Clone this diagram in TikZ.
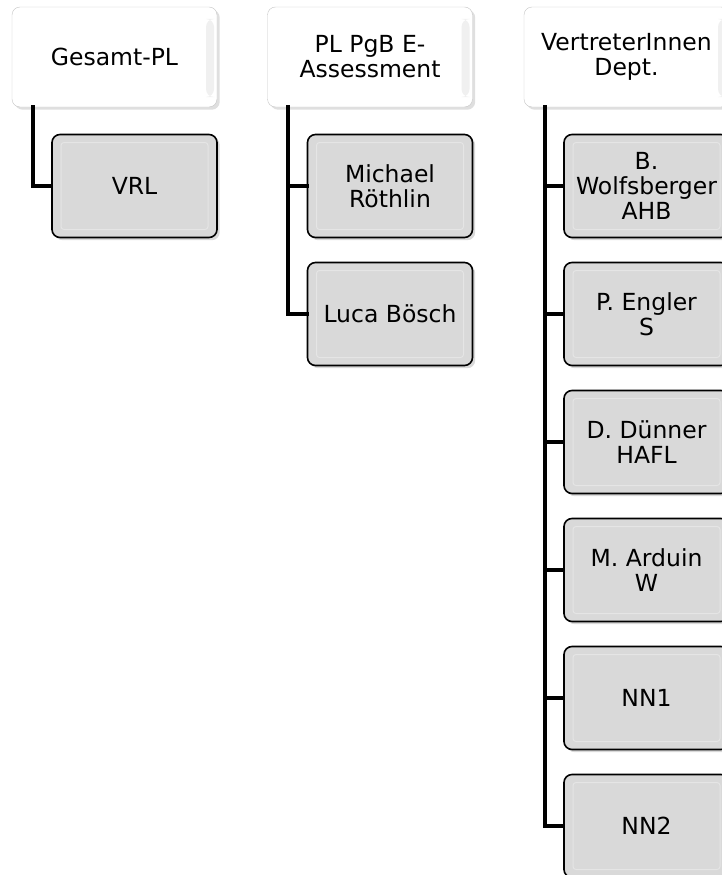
\documentclass[tikz,border=0pt]{standalone}
\usepackage{fontspec}
\setmainfont{DejaVu Sans}
\usetikzlibrary{shadows}
\tikzset{
  capo/.style={draw=gray!45, fill=white, rounded corners=8pt, minimum width=205pt,
    minimum height=100pt, inner sep=2pt, align=center, drop shadow={opacity=0.25},
    path picture={\fill[black!6]
      ([shift={(-11pt,10pt)}]path picture bounding box.south east) rectangle
      ([shift={(-3pt,-12pt)}]path picture bounding box.north east);},
    font=\fontsize{23.5}{25}\selectfont},
  membro/.style={draw=black, line width=1.6pt, fill=black!15, rounded corners=8pt,
    minimum width=165pt, minimum height=103pt, inner sep=2pt, align=center,
    drop shadow={opacity=0.3},
    path picture={\draw[black!10, line width=1pt, rounded corners=3pt]
      ([shift={(9pt,8pt)}]path picture bounding box.south west) rectangle
      ([shift={(-9pt,-8pt)}]path picture bounding box.north east);},
    font=\fontsize{23.5}{25}\selectfont},
  linea/.style={line width=4pt, line cap=rect}
}
\begin{document}
\begin{tikzpicture}[x=1pt, y=-1pt]
		\useasboundingbox (0,0) rectangle (722,875);
		% Colonna 1
		\node [capo] (gpl) at (114.5,57) {Gesamt-PL};
		\node [membro] (vrl) at (134.5,186) {VRL};
		% Colonna 2
		\node [capo] (pgb) at (370,57) {PL PgB E-\\Assessment};
		\node [membro] (roe) at (390,186) {Michael\\Röthlin};
		\node [membro] (boe) at (390,314) {Luca Bösch};
		% Colonna 3
		\node [capo] (dep) at (626.5,57) {VertreterInnen\\Dept.};
		\node [membro] (ahb) at (646.5,186) {B.\\Wolfsberger\\AHB};
		\node [membro] (s) at (646.5,314) {P. Engler\\S};
		\node [membro] (hafl) at (646.5,442) {D. Dünner\\HAFL};
		\node [membro] (w) at (646.5,570) {M. Arduin\\W};
		\node [membro] (nn1) at (646.5,698) {NN1};
		\node [membro] (nn2) at (646.5,826) {NN2};
		% Collegamenti
		\draw [linea] ([xshift=21pt]gpl.south west) |- (vrl.west);
		\foreach \m in {roe,boe}
			\draw [linea] ([xshift=21pt]pgb.south west) |- (\m.west);
		\foreach \m in {ahb,s,hafl,w,nn1,nn2}
			\draw [linea] ([xshift=21pt]dep.south west) |- (\m.west);
	\end{tikzpicture}
\end{document}
